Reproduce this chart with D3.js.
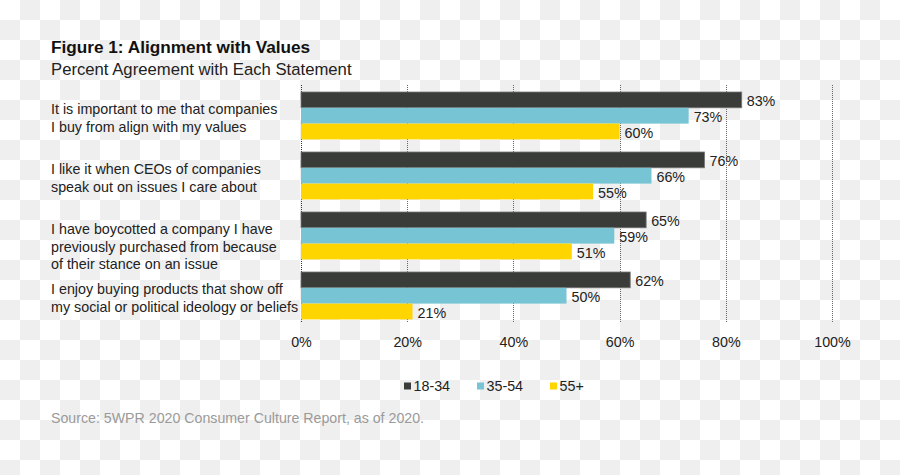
<!DOCTYPE html>
<html>
<head>
<meta charset="utf-8">
<script src="https://cdn.jsdelivr.net/npm/d3@7"></script>
<style>
  html, body { margin: 0; padding: 0; }
  body {
    width: 900px; height: 475px; overflow: hidden;
    background-color: #fff;
    background-image: conic-gradient(#efefef 25%, #fff 0 50%, #efefef 0 75%, #fff 0);
    background-size: 40px 40px;
    font-family: "Liberation Sans", Arial, sans-serif;
  }
  svg { display: block; }
</style>
</head>
<body>
<svg id="chart" width="900" height="475"></svg>
<script>
const title = "Figure 1: Alignment with Values";
const subtitle = "Percent Agreement with Each Statement";
const source = "Source: 5WPR 2020 Consumer Culture Report, as of 2020.";
const categories = [
  ["It is important to me that companies", "I buy from align with my values"],
  ["I like it when CEOs of companies", "speak out on issues I care about"],
  ["I have boycotted a company I have", "previously purchased from because", "of their stance on an issue"],
  ["I enjoy buying products that show off", "my social or political ideology or beliefs"]
];
const seriesNames = ["18-34", "35-54", "55+"];
const seriesColors = ["#3a3c3a", "#77c4d5", "#ffd500"];
const values18_34 = [83, 76, 65, 62];
const values35_54 = [73, 66, 59, 50];
const values55 = [60, 55, 51, 21];
const xTicks = [0, 20, 40, 60, 80, 100];

const seriesValues = [values18_34, values35_54, values55];
const svg = d3.select("#chart");
const FS = 14.3;

const plotLeft = 301, plotRight = 832, plotTop = 85.7, plotBottom = 325.7;
const x = d3.scaleLinear().domain([0, 100]).range([plotLeft, plotRight]);
const y = d3.scaleBand().domain(d3.range(categories.length)).range([plotTop, plotBottom])
  .paddingInner(0.21).paddingOuter(0.105);
const ySub = d3.scaleBand().domain(d3.range(seriesNames.length)).range([0, y.bandwidth()]);

// titles
svg.append("text").attr("x", 51).attr("y", 53.3)
  .attr("font-size", 17.2).attr("font-weight", "bold").attr("fill", "#111").text(title);
svg.append("text").attr("x", 51).attr("y", 75)
  .attr("font-size", 16.7).attr("fill", "#222").text(subtitle);

// gridlines
const grid = svg.append("g");
grid.selectAll("line").data(xTicks).join("line")
  .attr("x1", d => Math.round(x(d)) + 0.5).attr("x2", d => Math.round(x(d)) + 0.5)
  .attr("y1", 85).attr("y2", 323)
  .attr("stroke", d => d === 0 ? "#333" : "#666")
  .attr("stroke-width", 1)
  .attr("stroke-dasharray", "1,1");

// x axis labels
const xAxis = d3.axisBottom(x).tickValues(xTicks).tickFormat(d => d + "%").tickSize(0).tickPadding(0);
const gx = svg.append("g").attr("transform", "translate(0,337)").call(xAxis);
gx.select(".domain").remove();
gx.selectAll("text").attr("font-size", FS).attr("fill", "#222")
  .attr("font-family", "Liberation Sans, Arial, sans-serif");

// bars
const groups = svg.append("g").selectAll("g").data(categories).join("g")
  .attr("transform", (d, i) => `translate(0,${y(i)})`);
seriesNames.forEach((s, si) => {
  groups.append("rect")
    .attr("x", x(0))
    .attr("y", ySub(si))
    .attr("width", (d, i) => x(seriesValues[si][i]) - x(0))
    .attr("height", ySub.bandwidth())
    .attr("fill", seriesColors[si])
    .attr("stroke", si === 0 ? "#777" : "none")
    .attr("stroke-width", si === 0 ? 0.8 : 0);
  groups.append("text")
    .attr("x", (d, i) => x(seriesValues[si][i]) + 5)
    .attr("y", ySub(si) + ySub.bandwidth() / 2 + 1)
    .attr("dy", "0.35em")
    .attr("font-size", FS).attr("fill", "#222")
    .text((d, i) => seriesValues[si][i] + "%");
});

// category labels
groups.each(function(lines, i) {
  const t = d3.select(this).append("text")
    .attr("font-size", FS).attr("fill", "#222");
  lines.forEach((ln, li) => {
    t.append("tspan").attr("x", 51).attr("y", 17 + li * 17.5).attr("dy", "0.35em").text(ln);
  });
});

// legend
const legendX = [404, 477, 550];
const lg = svg.append("g").selectAll("g").data(seriesNames).join("g")
  .attr("transform", (d, i) => `translate(${legendX[i]},386)`);
lg.append("rect").attr("x", 0).attr("y", -3.5).attr("width", 7).attr("height", 7)
  .attr("fill", (d, i) => seriesColors[i]);
lg.append("text").attr("x", 9.5).attr("dy", "0.35em").attr("font-size", FS)
  .attr("fill", "#222").text(d => d);

// source
svg.append("text").attr("x", 51).attr("y", 422.7).attr("font-size", 14.2)
  .attr("fill", "#9a9a9a").text(source);
</script>
</body>
</html>
